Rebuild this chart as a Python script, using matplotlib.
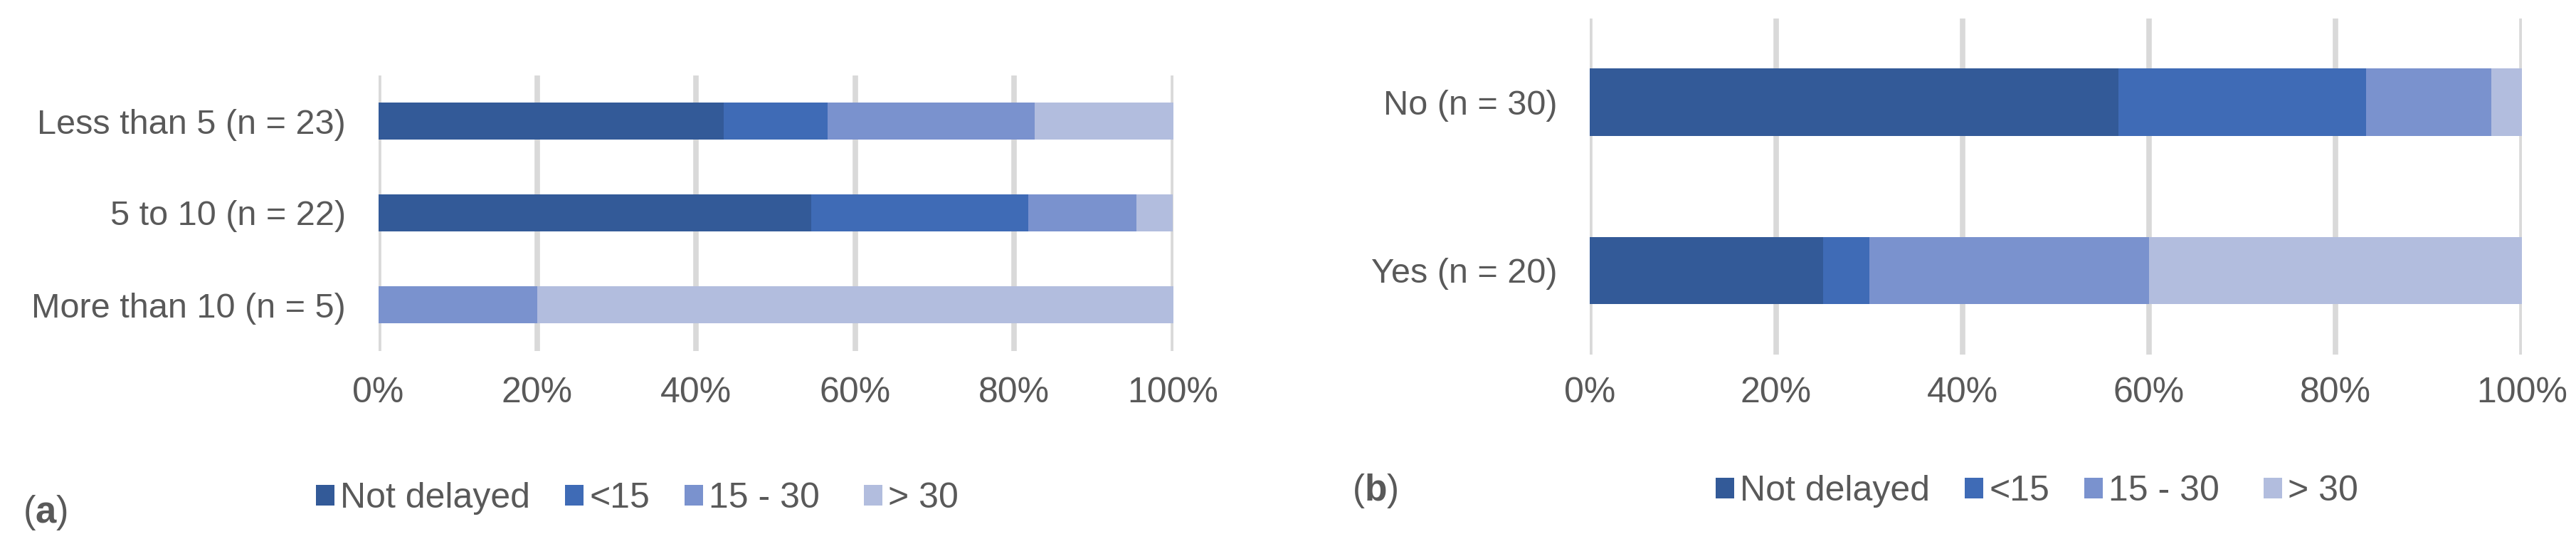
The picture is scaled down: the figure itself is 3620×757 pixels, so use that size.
import matplotlib
matplotlib.use("Agg")
import matplotlib.pyplot as plt
from matplotlib.patches import Patch
from matplotlib.ticker import FuncFormatter

plt.rcParams['font.family'] = ['Liberation Sans', 'DejaVu Sans']
plt.rcParams['mathtext.fontset'] = 'custom'
plt.rcParams['mathtext.rm'] = 'Liberation Sans'
plt.rcParams['mathtext.bf'] = 'Liberation Sans:bold'

# ---- data ----
series = ["Not delayed", "<15", "15 - 30", "> 30"]
colors = ["#335A98", "#3F6BB6", "#7A92CE", "#B2BDDE"]

cats_a = ["Less than 5 (n = 23)", "5 to 10 (n = 22)", "More than 10 (n = 5)"]
not_delayed_a = [43.5, 54.5, 0.0]
lt15_a = [13.0, 27.3, 0.0]
d15_30_a = [26.1, 13.6, 20.0]
gt30_a = [17.4, 4.6, 80.0]

cats_b = ["No (n = 30)", "Yes (n = 20)"]
not_delayed_b = [56.7, 25.0]
lt15_b = [26.6, 5.0]
d15_30_b = [13.4, 30.0]
gt30_b = [3.3, 40.0]

xticks = [0, 20, 40, 60, 80, 100]

TEXT = "#595959"
GRID = "#D9D9D9"
FS = 36

W, H = 3620, 757
fig = plt.figure(figsize=(W / 100, H / 100), dpi=100)


def draw(ax, cats, vals, bar_h, pad_y):
    ys = list(range(len(cats)))
    left = [0.0] * len(cats)
    for s, v, c in zip(series, vals, colors):
        ax.barh(ys, v, left=left, height=bar_h, color=c, label=s, zorder=3)
        left = [l + x for l, x in zip(left, v)]
    ax.set_xlim(0, 100)
    ax.set_ylim(len(cats) - 0.5, -0.5)
    ax.set_yticks(ys)
    ax.set_yticklabels(cats)
    ax.set_xticks(xticks)
    ax.xaxis.set_major_formatter(FuncFormatter(lambda x, p: f"{x:.0f}%"))
    for sp in ax.spines.values():
        sp.set_visible(False)
    ax.grid(axis='x', color=GRID, lw=5.5, zorder=0)
    ax.set_axisbelow(True)
    ax.tick_params(axis='both', length=0, labelcolor=TEXT)
    ax.tick_params(axis='x', pad=pad_y, labelsize=FS)
    ax.tick_params(axis='y', pad=33, labelsize=35)


def fx(px):
    return px / W


def fy(py):
    return 1 - py / H


# panel (a)
ax1 = fig.add_axes([fx(531.5), fy(492.5), fx(1648.5 - 531.5), (492.5 - 105.5) / H])
draw(ax1, cats_a, [not_delayed_a, lt15_a, d15_30_a, gt30_a], 0.41, 26)

# panel (b)
ax2 = fig.add_axes([fx(2234), fy(498), fx(3544 - 2234), (498 - 25.5) / H])
draw(ax2, cats_b, [not_delayed_b, lt15_b, d15_30_b, gt30_b], 0.40, 22)

# legends: one entry each, placed like the original
offsets = [0, 350, 518, 770]
for x0, yc in [(444, 700), (2411, 690)]:
    for off, s, c in zip(offsets, series, colors):
        leg = fig.legend([Patch(facecolor=c, edgecolor='none')], [s], loc='center left',
                         bbox_to_anchor=(fx(x0 + off), fy(yc)), frameon=False, fontsize=FS,
                         handlelength=0.52, handleheight=0.52, handletextpad=0.16,
                         borderpad=0, borderaxespad=0)
        for t in leg.get_texts():
            t.set_color(TEXT)

fig.text(fx(32), fy(720), r"($\mathbf{a}$)", fontsize=38, color=TEXT, ha='left', va='center')
fig.text(fx(1900), fy(690), r"($\mathbf{b}$)", fontsize=37, color=TEXT, ha='left', va='center')

fig.savefig("out.png", dpi=100)
